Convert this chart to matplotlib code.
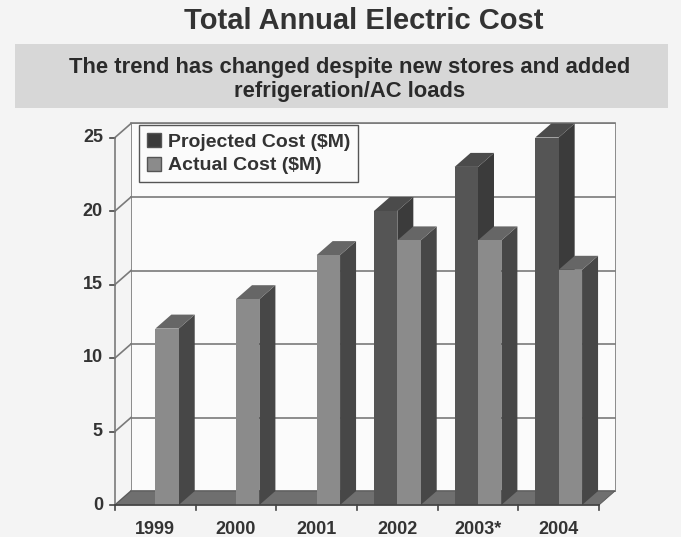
import matplotlib
matplotlib.use('Agg')
import matplotlib.pyplot as plt
from matplotlib.patches import Polygon, Patch, Rectangle

plt.rcParams['font.family'] = ['Liberation Sans', 'DejaVu Sans']

years = ['1999', '2000', '2001', '2002', '2003*', '2004']
projected = [0, 0, 0, 20, 23, 25]
actual = [12, 14, 17, 18, 18, 16]
yticks = [0, 5, 10, 15, 20, 25]

# grey shades: front, side, top
proj_col = ('#555555', '#3b3b3b', '#4b4b4b')
act_col = ('#8b8b8b', '#474747', '#666666')
floor_col = '#6f6f6f'
line_col = '#7a7a7a'
text_col = '#333333'

W, H = 681, 537
fig = plt.figure(figsize=(W / 100, H / 100), dpi=100, facecolor='#f4f4f4')

# title and subtitle band
fig.text(364 / W, 1 - 29 / H, 'Total Annual Electric Cost', ha='center', va='baseline',
         fontsize=21, fontweight='bold', color=text_col)
fig.patches.append(Rectangle((15 / W, 1 - 108 / H), 653 / W, 64 / H,
                             transform=fig.transFigure, facecolor='#d7d7d7',
                             edgecolor='none', zorder=0))
fig.text(350 / W, 1 - 73 / H, 'The trend has changed despite new stores and added',
         ha='center', va='baseline', fontsize=15.8, fontweight='bold', color='#2a2a2a')
fig.text(350 / W, 1 - 97 / H, 'refrigeration/AC loads',
         ha='center', va='baseline', fontsize=15.8, fontweight='bold', color='#2a2a2a')

# axes frame: x in category units, y in cost units
left, right, y0, y25 = 115, 599, 505, 137.5
ax = fig.add_axes([left / W, (H - y0) / H, (right - left) / W, (y0 - y25) / H])
ax.set_xlim(0, len(years))
ax.set_ylim(0, 25)
ax.axis('off')

n = len(years)
DX = 16 / ((right - left) / n)
DY = 14 / ((y0 - y25) / 25)

def poly(pts, color, z, ec='none'):
    ax.add_patch(Polygon(pts, closed=True, facecolor=color, edgecolor=ec,
                         linewidth=0.6, zorder=z, clip_on=False))

# back wall
poly([(DX, DY), (n + DX, DY), (n + DX, 25 + DY), (DX, 25 + DY)], '#fbfbfb', 1, ec=line_col)
for v in yticks:
    ax.plot([DX, n + DX], [v + DY, v + DY], color=line_col, lw=1.2, zorder=2, clip_on=False)
    ax.plot([0, DX], [v, v + DY], color=line_col, lw=1.2, zorder=2, clip_on=False)
    ax.plot([-0.06, 0], [v, v], color='#444444', lw=1.2, zorder=2, clip_on=False)
    ax.text(-0.15, v, str(v), ha='right', va='center', fontsize=13,
            fontweight='bold', color=text_col)
ax.plot([0, 0], [0, 25], color=line_col, lw=1.2, zorder=2, clip_on=False)

# floor
poly([(0, 0), (n, 0), (n + DX, DY), (DX, DY)], floor_col, 3, ec='#555555')

def bar3d(x0, w, h, cols):
    if h <= 0:
        return
    front, side, top = cols
    poly([(x0 + w, 0), (x0 + w + DX, DY), (x0 + w + DX, h + DY), (x0 + w, h)], side, 4)
    poly([(x0, h), (x0 + w, h), (x0 + w + DX, h + DY), (x0 + DX, h + DY)], top, 4)
    poly([(x0, 0), (x0 + w, 0), (x0 + w, h), (x0, h)], front, 4)

bw = 0.29
gap = 0.21
for i in range(n):
    bar3d(i + gap, bw, projected[i], proj_col)
    bar3d(i + gap + bw, bw, actual[i], act_col)

# x axis line, ticks and labels
ax.plot([0, n], [0, 0], color='#444444', lw=1.2, zorder=5, clip_on=False)
for i in range(n + 1):
    ax.plot([i, i], [0, -0.35], color='#444444', lw=1.2, zorder=5, clip_on=False)
for i, y in enumerate(years):
    ax.text(i + 0.5, -1.1, y, ha='center', va='top', fontsize=13,
            fontweight='bold', color=text_col)

handles = [Patch(facecolor=proj_col[1], edgecolor='#555555', label='Projected Cost ($M)'),
           Patch(facecolor=act_col[0], edgecolor='#555555', label='Actual Cost ($M)')]
leg = fig.legend(handles=handles, loc='upper left', bbox_to_anchor=(139 / W, 1 - 125 / H),
                 bbox_transform=fig.transFigure, borderaxespad=0, fancybox=False,
                 edgecolor='#555555', facecolor='#fbfbfb', framealpha=1,
                 prop={'size': 14, 'weight': 'bold'}, handlelength=0.75, handleheight=0.75,
                 handletextpad=0.35, labelspacing=0.3, borderpad=0.4)
leg.get_frame().set_linewidth(1.0)
for t in leg.get_texts():
    t.set_color(text_col)

fig.savefig('out.png', dpi=100, facecolor=fig.get_facecolor())
